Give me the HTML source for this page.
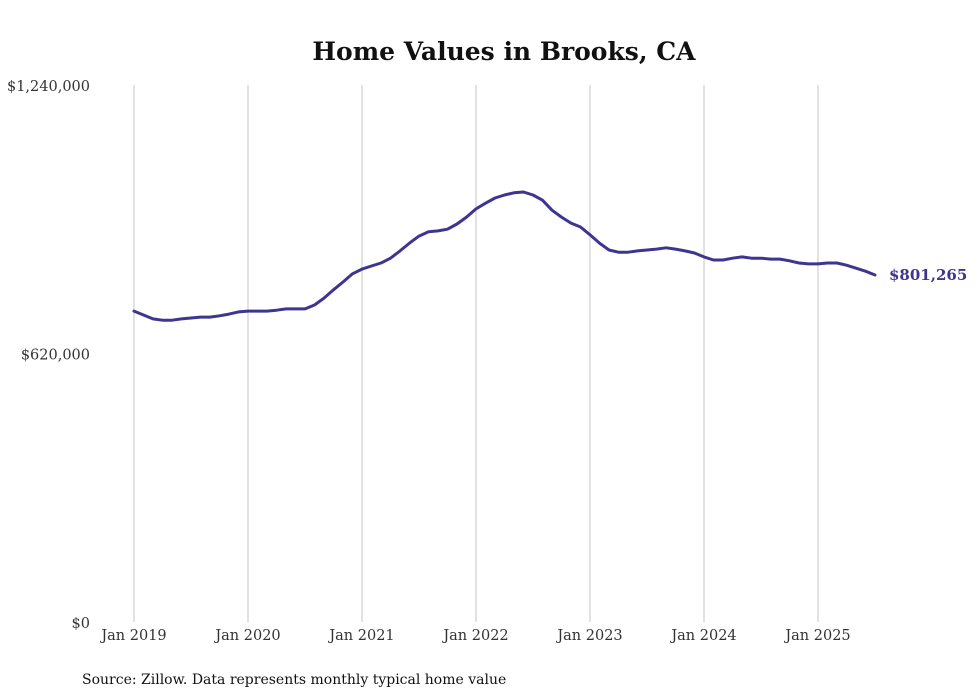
<!DOCTYPE html>
<html><head><meta charset="utf-8"><style>
body{margin:0;background:#fff;}
svg{display:block;font-family:"DejaVu Serif",serif;}
</style></head><body>
<svg id="chart" width="980" height="699">
<text x="504" y="60" text-anchor="middle" font-size="25" font-weight="bold" fill="#111">Home Values in Brooks, CA</text>
<g id="grid"></g><g id="yaxis"></g><g id="xaxis"></g><g id="series"></g>
<text x="82" y="684" font-size="14" fill="#111">Source: Zillow. Data represents monthly typical home value</text>
</svg>
<script>
const values=[718,709,700,697,697,700,702,704,704,707,711,716,718,718,718,720,723,723,723,732,748,767,785,804,815,822,829,840,857,875,891,901,903,907,919,935,954,967,979,986,991,993,986,974,951,935,921,912,894,875,859,854,854,857,859,861,864,861,857,852,843,836,836,840,843,840,840,838,838,834,829,827,827,829,829,824,817,810,801.265];
const yTicks=[0,620000,1240000];
const yTickLabels=["$0","$620,000","$1,240,000"];
const xYears=[2019,2020,2021,2022,2023,2024,2025];
const xLabels=["Jan 2019","Jan 2020","Jan 2021","Jan 2022","Jan 2023","Jan 2024","Jan 2025"];
const endLabel="$801,265";
const NS="http://www.w3.org/2000/svg";
const x=m=>134+m*9.5;
const y=v=>622-v/1240000*537;
function mk(tag,attrs,parent){const e=document.createElementNS(NS,tag);for(const k in attrs)e.setAttribute(k,attrs[k]);parent.appendChild(e);return e;}
const grid=document.getElementById('grid'),ya=document.getElementById('yaxis'),xa=document.getElementById('xaxis'),se=document.getElementById('series');
xYears.forEach((yr,i)=>{
  const px=x((yr-2019)*12);
  const l=mk('line',{x1:px,x2:px,y1:85,y2:622,stroke:'#c4c4c4','stroke-width':1},grid);
  
  
  const t=mk('text',{x:px,y:640,'text-anchor':'middle','font-size':14.5,fill:'#333'},xa);
  t.textContent=xLabels[i];
  
  
});
yTicks.forEach((v,i)=>{
  const t=mk('text',{x:90,y:y(v)+6,'text-anchor':'end','font-size':14.5,fill:'#333'},ya);
  t.textContent=yTickLabels[i];
  
  
});
const d=values.map((v,i)=>(i?'L':'M')+x(i).toFixed(1)+','+y(v*1000).toFixed(1)).join(' ');
const p=mk('path',{d:d,fill:'none',stroke:'#3d3590','stroke-width':3,'stroke-linejoin':'round','stroke-linecap':'round'},se);


const last=values.length-1;
const lt=mk('text',{x:x(last)+14,y:y(values[last]*1000)+5,'font-size':15,'font-weight':'bold',fill:'#3d3590'},se);
lt.textContent=endLabel;


</script>
</body></html>
